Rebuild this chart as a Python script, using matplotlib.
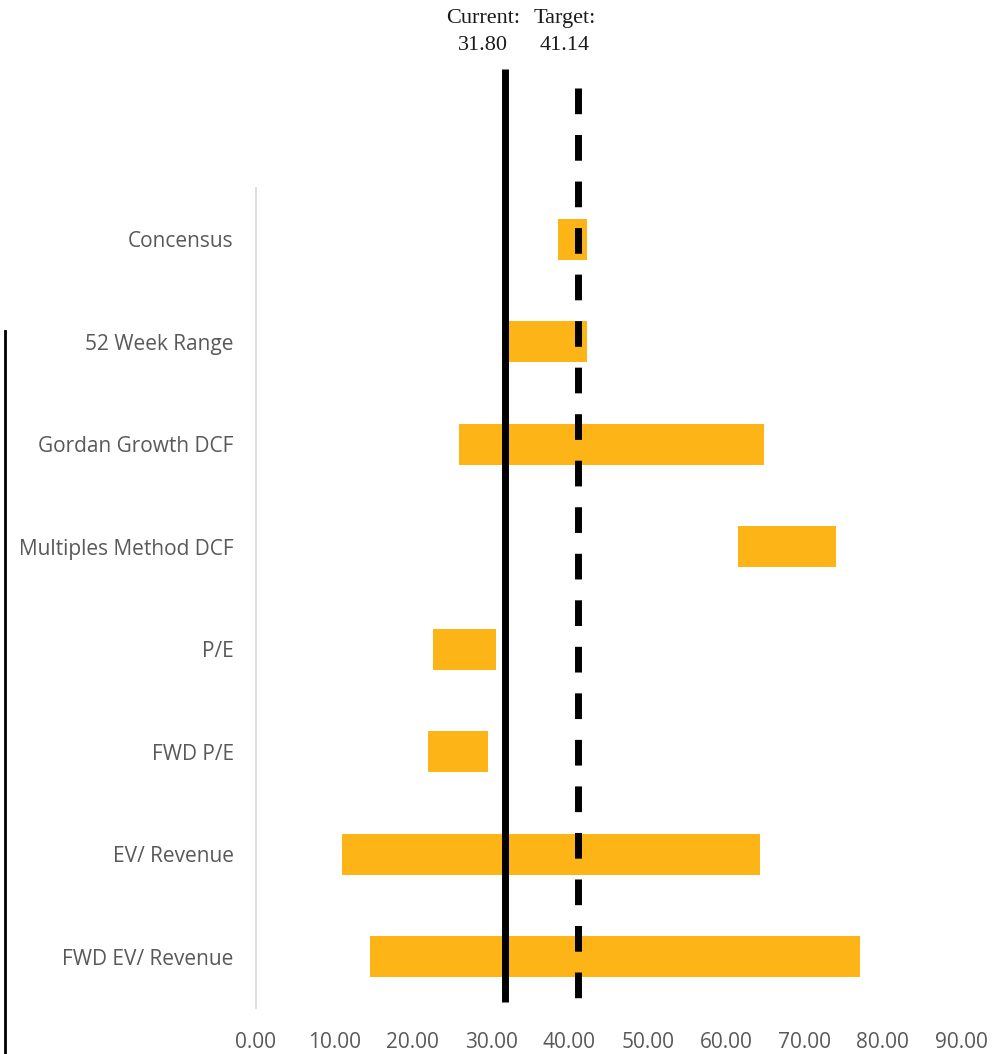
import matplotlib
matplotlib.use("Agg")
import matplotlib.pyplot as plt
from matplotlib.lines import Line2D
import matplotlib.transforms as mtransforms

# Valuation ranges per method (low / high)
categories = ["Concensus", "52 Week Range", "Gordan Growth DCF", "Multiples Method DCF",
              "P/E", "FWD P/E", "EV/ Revenue", "FWD EV/ Revenue"]
low_values = [38.6, 31.7, 25.9, 61.5, 22.6, 21.9, 11.0, 14.6]
high_values = [42.3, 42.2, 64.9, 74.0, 30.6, 29.6, 64.4, 77.1]
current_price = 31.80
target_price = 41.14
x_ticks = [0, 10, 20, 30, 40, 50, 60, 70, 80, 90]

BAR_COLOR = "#FDB416"
TEXT_GRAY = "#595959"
SANS = "Open Sans"
SERIF = "Liberation Serif"

fig = plt.figure(figsize=(9.95, 10.54), dpi=100)
ax = fig.add_axes([256 / 995, 46 / 1054, 705 / 995, 820 / 1054])

ypos = list(range(len(categories)))
widths = [h - l for l, h in zip(low_values, high_values)]
ax.barh(ypos, widths, left=low_values, height=0.4, color=BAR_COLOR, zorder=2)

ax.set_xlim(0, 90)
ax.set_ylim(len(categories) - 0.5, -0.5)

ax.set_yticks(ypos)
ax.set_yticklabels(categories, fontfamily=SANS, fontsize=15, color=TEXT_GRAY)
ax.set_xticks(x_ticks)
ax.set_xticklabels([f"{v:.2f}" for v in x_ticks], fontfamily=SANS, fontsize=15, color=TEXT_GRAY)
ax.tick_params(axis="y", length=0, pad=16)
ax.tick_params(axis="x", length=0, pad=17)

for side in ("top", "right", "bottom"):
    ax.spines[side].set_visible(False)
ax.spines["left"].set_color("#D9D9D9")
ax.spines["left"].set_linewidth(1.2)

# Current price (solid) and target price (dashed) reference lines
ax.plot([current_price, current_price], [-1.66, 7.44], color="black", lw=5.0,
        solid_capstyle="butt", clip_on=False, zorder=3)
ax.plot([target_price, target_price], [-1.476, 7.44], color="black", lw=5.0,
        linestyle=(0, (3.7, 3.0)), dash_capstyle="butt", clip_on=False, zorder=3)

# Price annotations at the top of the figure
label_y = 1.0 + (188 - 9) / 820
for value, name, dx in ((current_price, "Current:", -22), (target_price, "Target:", -14)):
    trans = ax.get_xaxis_transform() + mtransforms.ScaledTranslation(dx / 100, 0, fig.dpi_scale_trans)
    ax.text(value, label_y, f"{name}\n{value:.2f}", transform=trans,
            ha="center", va="top", fontfamily=SERIF, fontsize=16,
            color="#1a1a1a", linespacing=1.6, clip_on=False)

# Thin vertical rule at the left edge
fig.add_artist(Line2D([4.6 / 995, 4.6 / 995], [0, (1054 - 331) / 1054],
                      transform=fig.transFigure, color="black", lw=2.0))

fig.savefig("out.png", dpi=100)
